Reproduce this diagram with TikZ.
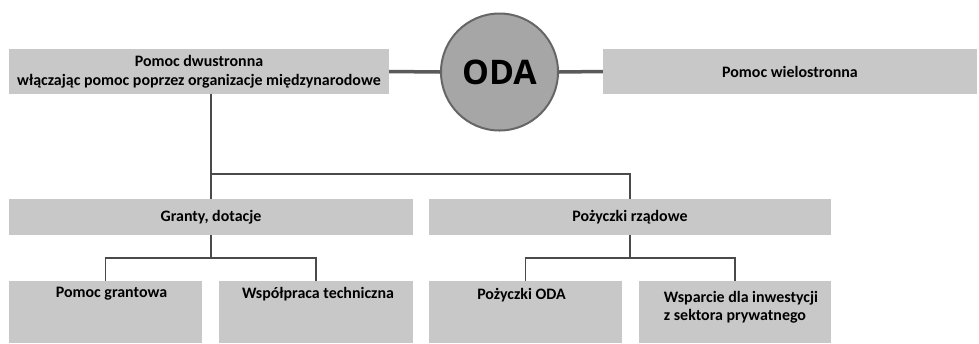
\documentclass[tikz,border=0pt]{standalone}
\usepackage{fontspec}
\setmainfont{Carlito}
\newfontfamily\odafont{Open Sans}
\usetikzlibrary{calc}
\definecolor{boxfill}{HTML}{C8C8C8}
\definecolor{circfill}{HTML}{A6A6A6}
\definecolor{circline}{HTML}{666666}
\definecolor{thickline}{HTML}{5A5A5A}
\definecolor{thinline}{HTML}{4A4A4A}
\tikzset{
  box/.style={fill=boxfill, draw=none, inner sep=0pt, font=\bfseries\fontsize{16}{19}\selectfont, align=center},
  leaf/.style={fill=boxfill, draw=none, inner sep=0pt, minimum width=193bp, minimum height=62bp},
  lbl/.style={font=\bfseries\fontsize{16}{18.5}\selectfont, align=left, inner sep=0pt, anchor=north},
  thin/.style={draw=thinline, line width=1.2bp},
  thick/.style={draw=thickline, line width=3.5bp}
}
\begin{document}
\begin{tikzpicture}[x=1bp,y=-1bp]
\useasboundingbox (0,0) rectangle (979,343);
% top level
\node[box, minimum width=380bp, minimum height=45bp] (bi) at (199,71.5) {Pomoc dwustronna\\włączając pomoc poprzez organizacje międzynarodowe};
\node[box, minimum width=374bp, minimum height=45bp] (multi) at (790,71.5) {Pomoc wielostronna};
\node[circle, fill=circfill, draw=circline, line width=2bp, minimum size=117bp, inner sep=0pt, font=\odafont\bfseries\fontsize{34}{36}\selectfont] (oda) at (499.5,72) {ODA};
% second level
\node[box, minimum width=404bp, minimum height=36bp] (grants) at (211,217) {Granty, dotacje};
\node[box, minimum width=402bp, minimum height=36bp] (loans) at (630,217) {Pożyczki rządowe};
% third level
\node[leaf, label={[lbl, yshift=-6bp, xshift=6bp]north:Pomoc grantowa}] (pg) at (105.5,312) {};
\node[leaf, minimum width=194bp, label={[lbl, yshift=-6bp, xshift=2bp]north:Współpraca techniczna}] (wt) at (316,312) {};
\node[leaf, label={[lbl, yshift=-7bp, xshift=-4bp]north:Pożyczki ODA}] (po) at (525.5,312) {};
\node[leaf, minimum width=192bp, label={[lbl, yshift=-10bp, xshift=6bp]north:Wsparcie dla inwestycji\\z sektora prywatnego}] (ws) at (735,312) {};
% junction levels
\coordinate (j1) at (0,174);
\coordinate (j2) at (0,258);
% connectors
\draw[thick] (bi.east) -- (oda.west);
\draw[thick] (oda.east) -- (multi.west);
\draw[thin] (grants.north |- bi.south) -- (grants.north);
\draw[thin] (grants.north |- j1) -| (loans.north);
\draw[thin] (grants.south) -- (grants.south |- j2);
\draw[thin] (pg.north) |- (wt.north |- j2) -- (wt.north);
\draw[thin] (loans.south) -- (loans.south |- j2);
\draw[thin] (po.north) |- (ws.north |- j2) -- (ws.north);
\end{tikzpicture}
\end{document}
